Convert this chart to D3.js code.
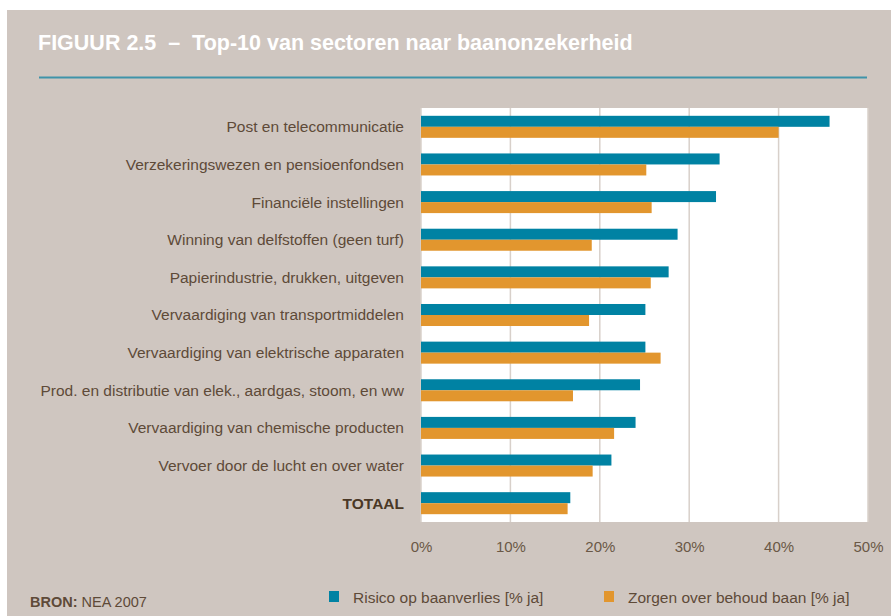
<!DOCTYPE html>
<html>
<head>
<meta charset="utf-8">
<script src="https://cdn.jsdelivr.net/npm/d3@7"></script>
<style>
  html, body { margin: 0; padding: 0; background: #ffffff; }
  svg { display: block; font-family: "Liberation Sans", Arial, sans-serif; }
</style>
</head>
<body>
<svg id="chart" width="891" height="616"></svg>
<script>
// sectors, top to bottom
var sectors = [
    "Post en telecommunicatie",
    "Verzekeringswezen en pensioenfondsen",
    "Financiële instellingen",
    "Winning van delfstoffen (geen turf)",
    "Papierindustrie, drukken, uitgeven",
    "Vervaardiging van transportmiddelen",
    "Vervaardiging van elektrische apparaten",
    "Prod. en distributie van elek., aardgas, stoom, en ww",
    "Vervaardiging van chemische producten",
    "Vervoer door de lucht en over water",
    "TOTAAL"
];
// % ja
var risico = [45.7, 33.4, 33.0, 28.7, 27.7, 25.1, 25.1, 24.5, 24.0, 21.3, 16.7];
var zorgen = [40.0, 25.2, 25.8, 19.1, 25.7, 18.8, 26.8, 17.0, 21.6, 19.2, 16.4];
var seriesNames = ["Risico op baanverlies [% ja]", "Zorgen over behoud baan [% ja]"];
var xTicks = [0, 10, 20, 30, 40, 50];

var colors = ["#0082a3", "#e2962e"];
var bg = "#cfc6c0";
var textColor = "#5e4a38";

var svg = d3.select("#chart");

// background panel
svg.append("rect")
    .attr("x", 7).attr("y", 10)
    .attr("width", 884).attr("height", 606)
    .attr("fill", bg);

// title
svg.append("text")
    .attr("x", 38).attr("y", 50)
    .attr("fill", "#ffffff")
    .attr("font-weight", "bold")
    .attr("font-size", 21.5)
    .attr("xml:space", "preserve")
    .text("FIGUUR 2.5  \u2013  Top-10 van sectoren naar baanonzekerheid");

svg.append("rect")
    .attr("x", 39).attr("y", 76.5)
    .attr("width", 828).attr("height", 2)
    .attr("fill", "#3f93a9");

var margin = { left: 421, top: 108, right: 868, bottom: 522 };

var x = d3.scaleLinear().domain([0, 50]).range([margin.left, margin.right]);
var y = d3.scaleBand().domain(sectors).range([margin.top, margin.bottom])
    .paddingInner(0.415).paddingOuter(0.2075);
var ySub = d3.scaleBand().domain([0, 1]).range([0, y.bandwidth()]);

// plot area
svg.append("rect")
    .attr("x", margin.left).attr("y", margin.top)
    .attr("width", margin.right - margin.left)
    .attr("height", margin.bottom - margin.top)
    .attr("fill", "#ffffff");

// gridlines
svg.append("g")
    .selectAll("line")
    .data(xTicks)
    .enter().append("line")
    .attr("x1", function (d) { return x(d); })
    .attr("x2", function (d) { return x(d); })
    .attr("y1", margin.top)
    .attr("y2", margin.bottom)
    .attr("stroke", "#d8d0ca")
    .attr("stroke-width", 1.5);

// bars
var data = sectors.map(function (s, i) { return { sector: s, values: [risico[i], zorgen[i]] }; });

var groups = svg.append("g")
    .selectAll("g")
    .data(data)
    .enter().append("g")
    .attr("transform", function (d) { return "translate(0," + y(d.sector) + ")"; });

groups.selectAll("rect")
    .data(function (d) { return d.values; })
    .enter().append("rect")
    .attr("x", x(0))
    .attr("y", function (d, i) { return ySub(i); })
    .attr("width", function (d) { return x(d) - x(0); })
    .attr("height", ySub.bandwidth())
    .attr("fill", function (d, i) { return colors[i]; });

// category labels
svg.append("g")
    .selectAll("text")
    .data(sectors)
    .enter().append("text")
    .attr("x", 404)
    .attr("y", function (d) { return y(d) + y.bandwidth() / 2; })
    .attr("dy", "0.35em")
    .attr("text-anchor", "end")
    .attr("font-size", 15.5)
    .attr("font-weight", function (d) { return d === "TOTAAL" ? "bold" : "normal"; })
    .attr("fill", function (d) { return d === "TOTAAL" ? "#4a3826" : textColor; })
    .text(function (d) { return d; });

// x axis
var xAxis = d3.axisBottom(x)
    .tickValues(xTicks)
    .tickSize(0)
    .tickPadding(0)
    .tickFormat(function (d) { return d + "%"; });

var axisG = svg.append("g")
    .attr("transform", "translate(0," + (margin.bottom + 19) + ")")
    .call(xAxis);
axisG.select(".domain").remove();
axisG.selectAll("text")
    .attr("font-family", "Liberation Sans, Arial, sans-serif")
    .attr("font-size", 15)
    .attr("fill", "#6a5846");

// source
var src = svg.append("text")
    .attr("x", 30).attr("y", 607)
    .attr("font-size", 14.5)
    .attr("fill", textColor);
src.append("tspan").attr("font-weight", "bold").text("BRON:");
src.append("tspan").text(" NEA 2007");

// legend
var legendX = [329, 604];
var legend = svg.append("g")
    .selectAll("g")
    .data(seriesNames)
    .enter().append("g")
    .attr("transform", function (d, i) { return "translate(" + legendX[i] + ",591)"; });

legend.append("rect")
    .attr("width", 10).attr("height", 11)
    .attr("fill", function (d, i) { return colors[i]; });

legend.append("text")
    .attr("x", 24).attr("y", 11.5)
    .attr("font-size", 15.5)
    .attr("fill", textColor)
    .text(function (d) { return d; });
</script>
</body>
</html>
